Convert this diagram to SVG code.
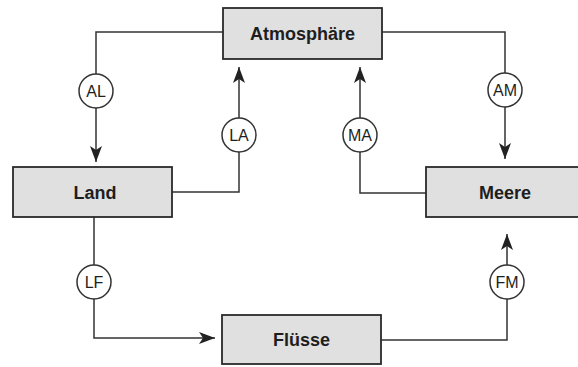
<svg xmlns="http://www.w3.org/2000/svg" width="578" height="367" viewBox="0 0 578 367">
<style>
.box{fill:#e0e0e0;stroke:#2a2a2a;stroke-width:1.8}
.lbl{font-family:"Liberation Sans",Arial,sans-serif;font-weight:bold;font-size:18px;fill:#1e1e1e;text-anchor:middle}
.edge{fill:none;stroke:#333;stroke-width:1.5}
.flow circle{fill:#fff;stroke:#333;stroke-width:1.5}
.flow text{font-family:"Liberation Sans",Arial,sans-serif;font-size:16px;fill:#1e1e1e;text-anchor:middle}
</style>
<defs>
<marker id="arr" viewBox="0 0 16 12" refX="16" refY="6" markerWidth="16" markerHeight="12" markerUnits="userSpaceOnUse" orient="auto">
<path d="M0,0 L16,6 L0,12 L4,6 Z" fill="#222"/>
</marker>
</defs>
<rect width="578" height="367" fill="#fff"/>
<g id="connectors">
<path class="edge" d="M223,32 H96 V162" marker-end="url(#arr)"/>
<path class="edge" d="M172,192 H239 V67" marker-end="url(#arr)"/>
<path class="edge" d="M426,193 H360 V67" marker-end="url(#arr)"/>
<path class="edge" d="M382,32 H505 V159" marker-end="url(#arr)"/>
<path class="edge" d="M94,217 V338 H215" marker-end="url(#arr)"/>
<path class="edge" d="M381,340 H507 V234" marker-end="url(#arr)"/>
</g>
<g id="flows" class="flow">
<g id="AL"><circle cx="96" cy="91" r="17"/><text x="96" y="97">AL</text></g>
<g id="LA"><circle cx="239" cy="135" r="17"/><text x="239" y="141">LA</text></g>
<g id="MA"><circle cx="360" cy="135" r="17"/><text x="360" y="141">MA</text></g>
<g id="AM"><circle cx="505" cy="90" r="17"/><text x="505" y="96">AM</text></g>
<g id="LF"><circle cx="94" cy="282" r="17"/><text x="94" y="288">LF</text></g>
<g id="FM"><circle cx="507" cy="282" r="17"/><text x="507" y="288">FM</text></g>
</g>
<g id="atmosphaere"><rect class="box" x="223" y="8" width="159" height="51"/><text class="lbl" x="302.5" y="40">Atmosphäre</text></g>
<g id="land"><rect class="box" x="13" y="167" width="159" height="50"/><text class="lbl" x="95" y="199">Land</text></g>
<g id="meere"><rect class="box" x="426" y="167" width="160" height="50"/><text class="lbl" x="505" y="199">Meere</text></g>
<g id="fluesse"><rect class="box" x="222" y="315" width="159" height="49"/><text class="lbl" x="301.5" y="346">Flüsse</text></g>
</svg>
